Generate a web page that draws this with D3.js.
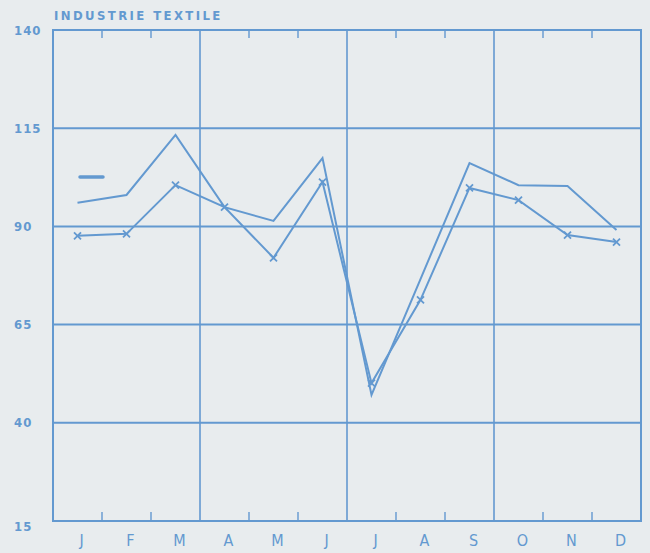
<!DOCTYPE html>
<html>
<head>
<meta charset="utf-8">
<script src="https://cdn.jsdelivr.net/npm/d3@7"></script>
<style>
  html, body { margin: 0; padding: 0; background: #e8ecee; }
  svg { display: block; }
</style>
</head>
<body>
<div id="chart"></div>
<script>
const months = ["J", "F", "M", "A", "M", "J", "J", "A", "S", "O", "N", "D"];
const yTicks = [15, 40, 65, 90, 115, 140];
// plain line
const seriesA = [96.0, 98.0, 113.3, 94.9, 91.4, 107.4, 47.1, 76.6, 106.1, 100.5, 100.3, 89.1];
// line with x markers
const seriesB = [87.6, 88.1, 100.5, 94.9, 82.0, 101.3, 50.1, 71.3, 99.8, 96.7, 87.8, 86.0];

const width = 650, height = 553;
const mLeft = 53, mRight = 641, mTop = 30, mBottom = 521;
const blue = "#6399d0";

const svg = d3.select("#chart").append("svg")
    .attr("width", width).attr("height", height);

svg.append("rect").attr("width", width).attr("height", height).attr("fill", "#e8ecee");

const x = d3.scaleLinear().domain([0, 12]).range([mLeft, mRight]);
const y = d3.scaleLinear().domain([15, 140]).range([mBottom, mTop]);

const g = svg.append("g");

// horizontal grid
g.selectAll(".hgrid").data(yTicks.slice(1, -1)).enter().append("line")
    .attr("x1", mLeft).attr("x2", mRight)
    .attr("y1", d => y(d)).attr("y2", d => y(d))
    .attr("stroke", blue).attr("stroke-width", 2);

// quarter lines
g.selectAll(".vgrid").data([3, 6, 9]).enter().append("line")
    .attr("x1", d => x(d)).attr("x2", d => x(d))
    .attr("y1", mTop).attr("y2", mBottom)
    .attr("stroke", blue).attr("stroke-width", 1.6);

// month ticks top and bottom
const mt = d3.range(1, 12).filter(d => d % 3 !== 0);
g.selectAll(".ttop").data(mt).enter().append("line")
    .attr("x1", d => x(d)).attr("x2", d => x(d))
    .attr("y1", mTop).attr("y2", mTop + 8)
    .attr("stroke", blue).attr("stroke-width", 1.4);
g.selectAll(".tbot").data(mt).enter().append("line")
    .attr("x1", d => x(d)).attr("x2", d => x(d))
    .attr("y1", mBottom).attr("y2", mBottom - 9)
    .attr("stroke", blue).attr("stroke-width", 1.4);

// frame
g.append("rect").attr("x", mLeft).attr("y", mTop)
    .attr("width", mRight - mLeft).attr("height", mBottom - mTop)
    .attr("fill", "none").attr("stroke", blue).attr("stroke-width", 2);

// y labels
svg.selectAll(".ylab").data(yTicks).enter().append("text")
    .attr("x", 14).attr("y", d => y(d) + (d === 15 ? 5 : 0))
    .attr("dy", "0.35em")
    .attr("font-family", "'DejaVu Sans Condensed', 'DejaVu Sans', sans-serif")
    .attr("font-weight", "bold").attr("font-size", 13)
    .attr("letter-spacing", 1)
    .attr("fill", blue)
    .text(d => d);

// month labels
svg.selectAll(".mlab").data(months).enter().append("text")
    .attr("x", (d, i) => x(i + 0.5) + 4).attr("y", 540)
    .attr("dy", "0.35em").attr("text-anchor", "middle")
    .attr("font-family", "'Liberation Sans Narrow', 'DejaVu Sans Condensed', sans-serif")
    .attr("font-size", 16)
    .attr("fill", blue)
    .text(d => d);

// title
svg.append("text").attr("x", 54).attr("y", 20)
    .attr("font-family", "'DejaVu Sans Condensed', 'DejaVu Sans', sans-serif")
    .attr("font-weight", "bold").attr("font-size", 13)
    .attr("letter-spacing", 2.4)
    .attr("fill", blue)
    .text("INDUSTRIE TEXTILE");

const line = d3.line().x((d, i) => x(i + 0.5)).y(d => y(d));

g.append("path").datum(seriesA).attr("d", line)
    .attr("fill", "none").attr("stroke", blue).attr("stroke-width", 2);
g.append("path").datum(seriesB).attr("d", line)
    .attr("fill", "none").attr("stroke", blue).attr("stroke-width", 2);

// x markers
const s = 3.5;
const marks = g.selectAll(".mk").data(seriesB).enter().append("g")
    .attr("transform", (d, i) => `translate(${x(i + 0.5)},${y(d)})`);
marks.append("path")
    .attr("d", `M${-s},${-s}L${s},${s}M${-s},${s}L${s},${-s}`)
    .attr("stroke", blue).attr("stroke-width", 1.8);

// legend dash
svg.append("line").attr("x1", 80).attr("x2", 103).attr("y1", 177).attr("y2", 177)
    .attr("stroke", blue).attr("stroke-width", 3.5).attr("stroke-linecap", "round");
</script>
</body>
</html>
